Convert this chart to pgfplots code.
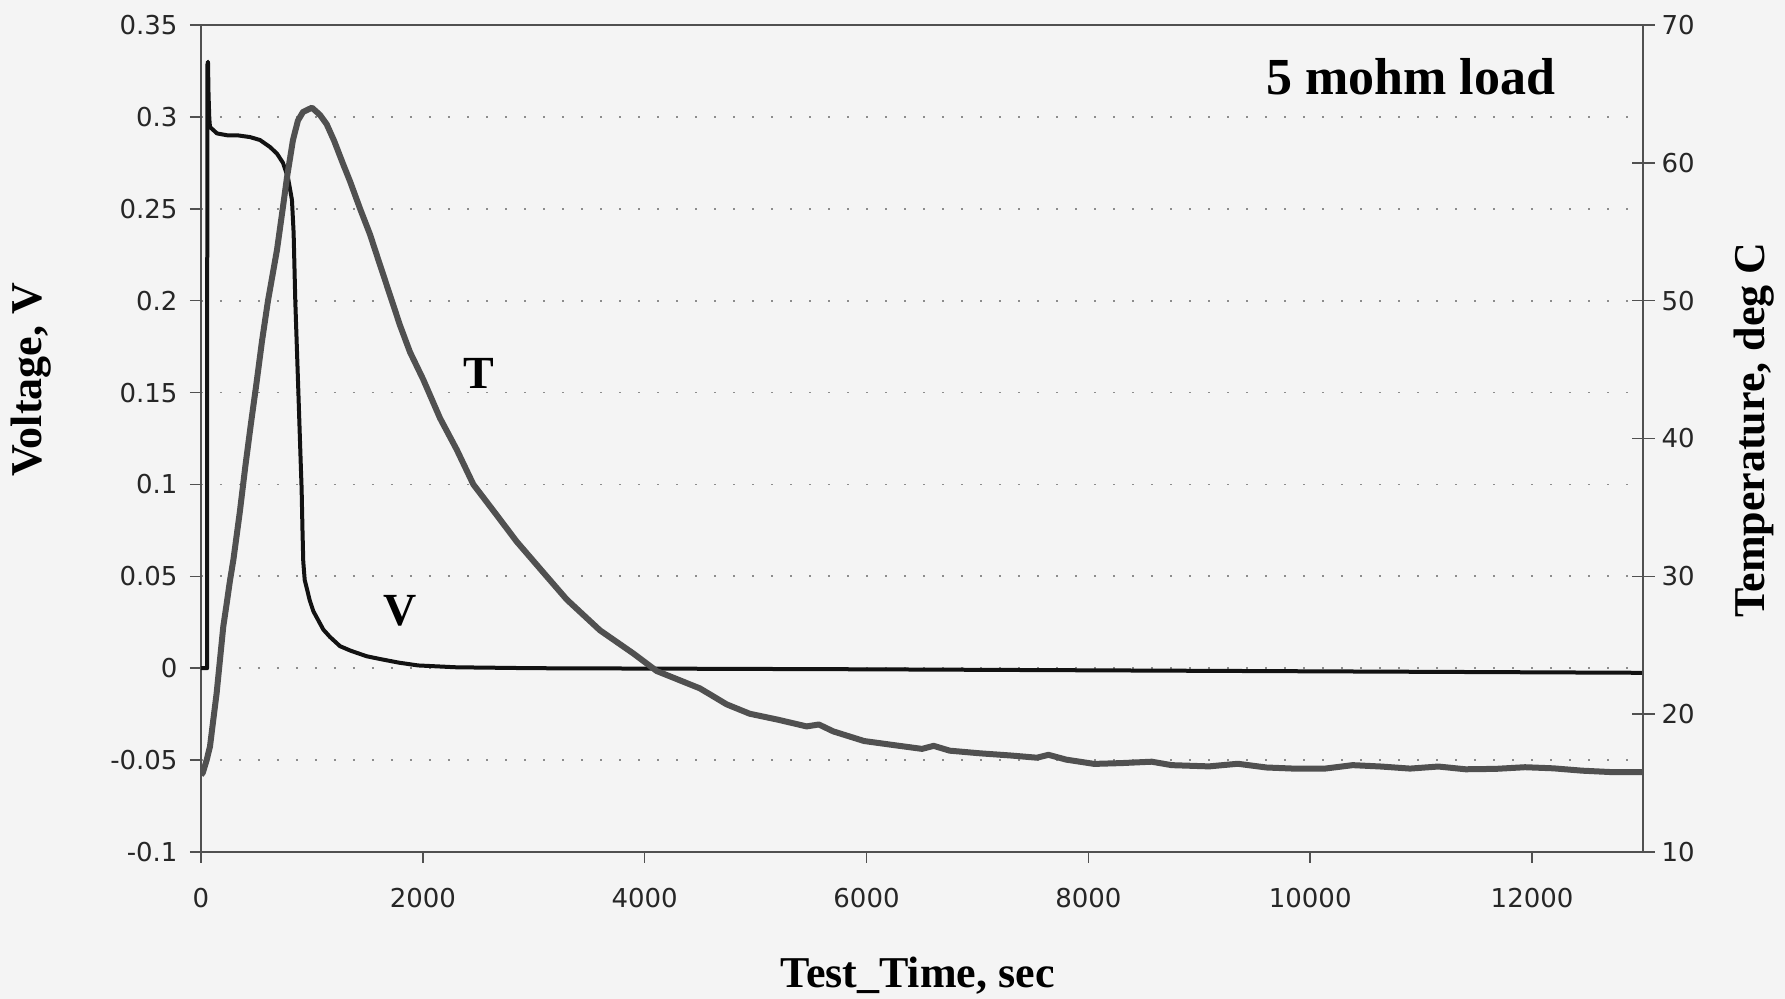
\documentclass[border=0pt]{standalone}
\usepackage{pgfplots}
\pgfplotsset{compat=1.18}
\usepackage{fontspec}
\setmainfont{Liberation Serif}
\newfontfamily\tickfont{DejaVu Sans}
\definecolor{bg}{RGB}{244,244,244}
\definecolor{tcol}{RGB}{80,80,80}
\definecolor{vcol}{RGB}{18,18,18}
\definecolor{axcol}{RGB}{80,80,80}

\pgfplotstableread{
x v
0 0
55 0
57 0.328
63 0.330
68 0.312
75 0.299
81 0.2945
144 0.291
234 0.290
325 0.290
442 0.289
532 0.2874
622 0.2836
685 0.280
739 0.275
784 0.267
820 0.2548
835 0.237
850 0.200
878 0.150
900 0.110
907 0.098
915 0.075
922 0.058
935 0.048
953 0.0437
980 0.037
1013 0.031
1103 0.021
1163 0.017
1253 0.012
1350 0.0095
1494 0.0065
1614 0.005
1786 0.003
1958 0.0015
2300 0.0005
3000 0.0
6000 -0.0006
13000 -0.0025
}\vdata

\pgfplotstableread{
x t
0 15.60
15 15.73
21 15.87
51 16.67
81 17.65
111 19.60
141 21.52
171 23.95
201 26.36
232 28.05
262 29.73
292 31.20
350 34.67
400 38.00
450 41.07
500 44.00
550 47.07
604 50.00
685 53.68
739 56.80
775 58.93
829 61.65
874 63.07
920 63.69
1000 64.00
1073 63.47
1133 62.80
1200 61.60
1283 59.87
1343 58.67
1434 56.67
1524 54.80
1600 52.93
1704 50.40
1794 48.21
1884 46.27
2004 44.27
2155 41.47
2305 39.20
2455 36.67
2636 34.76
2846 32.52
3087 30.27
3297 28.32
3597 26.08
3898 24.40
4108 23.13
4498 21.87
4739 20.71
4947 20.03
5200 19.60
5460 19.11
5570 19.25
5700 18.75
5978 18.05
6250 17.75
6500 17.48
6605 17.70
6750 17.35
7020 17.16
7300 17.00
7537 16.84
7640 17.05
7800 16.70
8053 16.39
8300 16.45
8571 16.55
8750 16.30
9088 16.21
9347 16.40
9605 16.13
9850 16.05
10123 16.04
10383 16.30
10639 16.20
10900 16.05
11155 16.20
11400 16.00
11672 16.03
11936 16.15
12190 16.07
12450 15.90
12706 15.80
13000 15.80
}\tdata

\begin{document}
\begin{tikzpicture}
\fill[bg] (0,0) rectangle (892.5pt,499.5pt);
\path[use as bounding box] (0,0) rectangle (892.5pt,499.5pt);
\begin{axis}[
  at={(100.5pt,73.5pt)}, anchor=south west,
  scale only axis, width=721pt, height=413.5pt,
  xmin=0, xmax=13000, ymin=-0.1, ymax=0.35,
  scaled x ticks=false, scaled y ticks=false,
  axis line style={axcol, line width=0.8pt},
  xtick={0,2000,4000,6000,8000,10000,12000},
  xticklabels={0,2000,4000,6000,8000,10000,12000},
  ytick={-0.1,-0.05,0,0.05,0.1,0.15,0.2,0.25,0.3,0.35},
  yticklabels={-0.1,-0.05,0,0.05,0.1,0.15,0.2,0.25,0.3,0.35},
  xtick pos=bottom, ytick pos=left, tick align=outside,
  major tick length=5.5pt,
  tick style={axcol, line width=0.8pt},
  ymajorgrids,
  grid style={black!45, line width=0.9pt, dash pattern=on 1pt off 8.5pt},
  tick label style={font=\tickfont\fontsize{13}{15}\selectfont, text=black!85},
  /pgf/number format/assume math mode=true,
  xticklabel style={yshift=-9pt},
  yticklabel style={xshift=-2.7pt},
  xlabel={Test\_Time, sec},
  xlabel style={at={(axis description cs:0.497,-0.1644)}, anchor=base,
    font=\bfseries\fontsize{22}{24}\selectfont},
  ylabel={Voltage, V},
  ylabel style={at={(axis description cs:-0.1179,0.5707)}, anchor=center,
    font=\bfseries\fontsize{22}{24}\selectfont},
]
\addplot[vcol, line width=2pt, line join=round] table[x=x, y=v] {\vdata};
\node[anchor=base, font=\bfseries\fontsize{26}{28}\selectfont] at (axis description cs:0.839,0.9154) {5 mohm load};
\node[font=\bfseries\fontsize{23}{23}\selectfont] at (axis cs:2506,0.1606) {T};
\node[font=\bfseries\fontsize{23}{23}\selectfont] at (axis cs:1794,0.0311) {V};
\end{axis}
\begin{axis}[
  at={(100.5pt,73.5pt)}, anchor=south west,
  scale only axis, width=721pt, height=413.5pt,
  xmin=0, xmax=13000, ymin=10, ymax=70,
  scaled x ticks=false, scaled y ticks=false,
  axis x line=none, axis y line*=right,
  axis line style={axcol, line width=0.8pt},
  ytick={10,20,30,40,50,60,70},
  yticklabels={10,20,30,40,50,60,70},
  tick align=center, major tick length=11.5pt,
  tick style={axcol, line width=0.8pt},
  tick label style={font=\tickfont\fontsize{13}{15}\selectfont, text=black!85},
  /pgf/number format/assume math mode=true,
  ylabel={Temperature, deg C},
  ylabel style={at={(axis description cs:1.077,0.510)}, anchor=center, rotate=0,
    font=\bfseries\fontsize{22}{24}\selectfont},
]
\addplot[tcol, line width=3pt, line join=round] table[x=x, y=t] {\tdata};
\end{axis}
\end{tikzpicture}
\end{document}
